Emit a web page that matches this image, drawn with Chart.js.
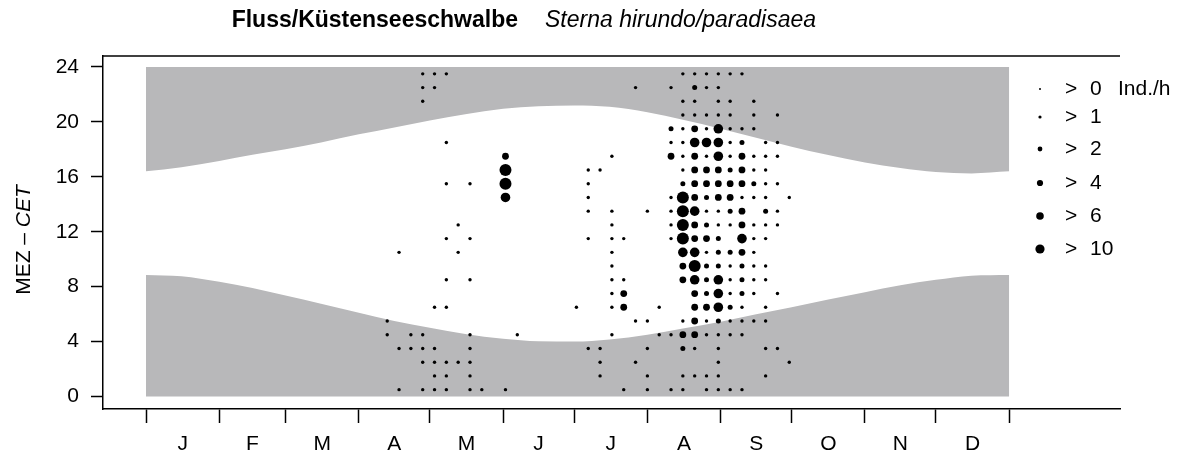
<!DOCTYPE html>
<html>
<head>
<meta charset="utf-8">
<script src="https://cdn.jsdelivr.net/npm/chart.js"></script>
<style>
  html, body { margin: 0; padding: 0; background: #fff; }
</style>
</head>
<body>
<canvas id="grafik" width="1194" height="461"></canvas>
<script>
// Monate und Achsen
var monate = ['J', 'F', 'M', 'A', 'M', 'J', 'J', 'A', 'S', 'O', 'N', 'D'];
var monatsAnfang = [0, 31, 59, 90, 120, 151, 181, 212, 243, 273, 304, 334, 365];
var stundenTicks = [0, 4, 8, 12, 16, 20, 24];

// Sonnenauf- und -untergang (MEZ, Stunden)
var sonneTage = [0, 15, 31, 45, 59, 74, 90, 105, 120, 135, 151, 166, 181, 196, 212, 227, 243, 258, 273, 288, 304, 319, 334, 349, 365];
var untergang = [16.4, 16.7, 17.15, 17.6, 18.0, 18.5, 19.1, 19.6, 20.1, 20.55, 20.95, 21.15, 21.2, 21.1, 20.7, 20.15, 19.5, 18.85, 18.2, 17.6, 17.05, 16.65, 16.35, 16.25, 16.4];
var aufgang = [8.85, 8.75, 8.35, 7.9, 7.35, 6.75, 6.1, 5.5, 5.0, 4.55, 4.2, 4.02, 4.0, 4.15, 4.5, 4.95, 5.45, 6.0, 6.5, 7.05, 7.6, 8.1, 8.5, 8.8, 8.85];

// Legendenklassen (Ind./h)
var klassen = ['> 0', '> 1', '> 2', '> 4', '> 6', '> 10'];

// Beobachtungen je Klasse: [Pentade (0-72), Stunde]
var ind1 = [
  [23,23],[24,23],[25,23],[45,23],[46,23],[47,23],[48,23],[49,23],[50,23],
  [23,22],[24,22],[41,22],[44,22],[47,22],[48,22],
  [23,21],[45,21],[46,21],[48,21],[49,21],[51,21],
  [45,20],[46,20],[47,20],[48,20],[49,20],[51,20],[53,20],
  [45,19],[47,19],[49,19],[50,19],[51,19],
  [25,18],[44,18],[45,18],[49,18],[52,18],[53,18],
  [39,17],[45,17],[47,17],[49,17],[51,17],[52,17],[53,17],
  [37,16],[38,16],[45,16],[51,16],[52,16],
  [25,15],[27,15],[37,15],[52,15],[53,15],
  [37,14],[44,14],[50,14],[51,14],[52,14],[54,14],
  [37,13],[39,13],[42,13],[44,13],[47,13],[48,13],[53,13],
  [26,12],[39,12],[44,12],[48,12],[49,12],[51,12],[52,12],[53,12],
  [25,11],[27,11],[37,11],[39,11],[40,11],[44,11],[51,11],[52,11],
  [21,10],[26,10],[39,10],[47,10],[51,10],
  [39,9],[49,9],[51,9],[52,9],
  [25,8],[27,8],[39,8],[40,8],[49,8],[51,8],[52,8],
  [39,7],[49,7],[51,7],[53,7],
  [24,6],[25,6],[36,6],[39,6],[43,6],[50,6],[52,6],
  [20,5],[41,5],[42,5],[45,5],[47,5],[49,5],[50,5],[51,5],[52,5],
  [20,4],[22,4],[23,4],[27,4],[31,4],[39,4],[43,4],[44,4],[47,4],[48,4],[49,4],[50,4],
  [21,3],[22,3],[23,3],[24,3],[27,3],[37,3],[38,3],[42,3],[46,3],[48,3],[52,3],[53,3],
  [23,2],[24,2],[25,2],[26,2],[27,2],[38,2],[41,2],[48,2],[54,2],
  [24,1],[25,1],[27,1],[38,1],[42,1],[45,1],[46,1],[47,1],[48,1],[52,1],
  [21,0],[23,0],[24,0],[25,0],[27,0],[28,0],[30,0],[40,0],[42,0],[44,0],[45,0],[47,0],[48,0],[49,0],[50,0]
];
var ind2 = [
  [46,22],[44,19],[50,18],[49,16],[45,15],[51,15],[47,14],[49,13],[52,13],[47,12],
  [48,11],[48,10],[49,10],[47,9],[48,9],[50,9],[47,8],[50,8],[47,7],[50,7],[49,6],[48,5],[45,3]
];
var ind4 = [
  [46,19],[30,17],[44,17],[46,17],[50,17],[46,16],[47,16],[48,16],[50,16],
  [46,15],[47,15],[48,15],[49,15],[50,15],[46,14],[48,14],[49,14],[50,13],[46,12],[50,12],
  [46,11],[47,11],[50,10],[45,9],[45,8],[40,7],[46,7],[40,6],[46,6],[47,6],[46,5],[45,4],[46,4]
];
var ind6 = [
  [48,19],[46,18],[47,18],[48,18],[48,17],[30,14],[46,13],[50,11],[45,10],[46,10],[46,8],[48,8],[48,7],[48,6]
];
var ind10 = [
  [30,16],[30,15],[45,14],[45,13],[45,12],[45,11],[46,9]
];

var GRAU = '#b8b8ba';
var SCHRIFT = '"Liberation Sans", Arial, sans-serif';

function punkte(liste) {
  return liste.map(function(p) { return { x: p[0] * 5 + 2, y: p[1] + 0.5 }; });
}
function kurve(werte) {
  return sonneTage.map(function(t, i) { return { x: t, y: werte[i] }; });
}
function punktDatensatz(liste, radius) {
  return {
    type: 'scatter', data: punkte(liste), order: 1,
    pointRadius: radius, pointHoverRadius: radius,
    backgroundColor: '#000', borderWidth: 0
  };
}

var monatsMitte = monate.map(function(m, i) { return (monatsAnfang[i] + monatsAnfang[i + 1]) / 2; });

// Pixel: Tag 0 bei x=146, 2.365 px je Tag; Zeichenfläche 103..1120
var LINKS = 103, RECHTS = 1120, OBEN = 56, UNTEN = 409;
var PX_TAG = 2.365;
var xMin = -(146 - LINKS) / PX_TAG;
var xMax = xMin + (RECHTS - LINKS) / PX_TAG;
var PX_STD = 13.73;
var yMin = -(UNTEN - 396.5) / PX_STD;
var yMax = 24 + (67 - OBEN) / PX_STD;

var beschriftung = {
  id: 'beschriftung',
  afterDraw: function(chart) {
    var c = chart.ctx;
    var a = chart.chartArea;
    c.save();
    // Rahmen oben
    c.strokeStyle = '#000';
    c.lineWidth = 1.5;
    c.beginPath();
    c.moveTo(a.left, a.top);
    c.lineTo(a.right, a.top);
    c.stroke();

    // Titel
    c.fillStyle = '#000';
    c.textBaseline = 'middle';
    c.font = 'bold 23px ' + SCHRIFT;
    c.textAlign = 'right';
    c.fillText('Fluss/Küstenseeschwalbe', 518, 21);
    c.font = 'italic 23px ' + SCHRIFT;
    c.textAlign = 'left';
    c.fillText('Sterna hirundo/paradisaea', 545, 21);

    // y-Achsentitel
    c.save();
    c.translate(24, 240);
    c.rotate(-Math.PI / 2);
    c.font = '21px ' + SCHRIFT;
    var t1 = 'MEZ – ';
    var w1 = c.measureText(t1).width;
    c.font = 'italic 21px ' + SCHRIFT;
    var w2 = c.measureText('CET').width;
    var start = -(w1 + w2) / 2;
    c.textAlign = 'left';
    c.font = '21px ' + SCHRIFT;
    c.fillText(t1, start, 0);
    c.font = 'italic 21px ' + SCHRIFT;
    c.fillText('CET', start + w1, 0);
    c.restore();

    // Legende
    var zeilen = [89, 117, 149, 183, 216, 249];
    var radien = [1.0, 1.6, 2.4, 3.1, 3.8, 4.6];
    c.font = '21px ' + SCHRIFT;
    c.textAlign = 'left';
    klassen.forEach(function(k, i) {
      var y = zeilen[i];
      c.beginPath();
      c.arc(1040, y, radien[i], 0, Math.PI * 2);
      c.fill();
      var teile = k.split(' ');
      c.fillText(teile[0], 1065, y);
      c.fillText(teile[1], 1090, y);
    });
    c.fillText('Ind./h', 1118, zeilen[0]);
    c.restore();
  }
};

new Chart(document.getElementById('grafik'), {
  type: 'scatter',
  data: {
    datasets: [
      punktDatensatz(ind10, 6.0),
      punktDatensatz(ind6, 4.8),
      punktDatensatz(ind4, 3.4),
      punktDatensatz(ind2, 2.5),
      punktDatensatz(ind1, 1.7),
      {
        type: 'line', data: kurve(untergang), order: 5,
        fill: { value: 24 }, backgroundColor: GRAU,
        borderWidth: 0, borderColor: GRAU, pointRadius: 0,
        cubicInterpolationMode: 'monotone'
      },
      {
        type: 'line', data: kurve(aufgang), order: 5,
        fill: { value: 0 }, backgroundColor: GRAU,
        borderWidth: 0, borderColor: GRAU, pointRadius: 0,
        cubicInterpolationMode: 'monotone'
      }
    ]
  },
  options: {
    responsive: false,
    animation: false,
    events: [],
    layout: { padding: { left: 0, top: OBEN, right: 1194 - RECHTS, bottom: 0 } },
    plugins: { legend: { display: false }, tooltip: { enabled: false }, title: { display: false } },
    scales: {
      x: {
        type: 'linear', min: xMin, max: xMax,
        afterFit: function(s) { s.height = 461 - UNTEN; },
        afterBuildTicks: function(s) {
          s.ticks = monatsAnfang.concat(monatsMitte).map(function(v) { return { value: v }; });
        },
        ticks: {
          autoSkip: false, maxRotation: 0, padding: 9,
          color: '#000', font: { family: SCHRIFT, size: 21 },
          callback: function(v) {
            var i = monatsMitte.indexOf(v);
            return i >= 0 ? monate[i] : '';
          }
        },
        grid: {
          drawOnChartArea: false, drawTicks: true, tickLength: 14, tickWidth: 1.5,
          tickColor: function(ctx) {
            return ctx.tick && monatsAnfang.indexOf(ctx.tick.value) >= 0 ? '#000' : 'rgba(0,0,0,0)';
          }
        },
        border: { display: true, color: '#000', width: 1.5 }
      },
      y: {
        type: 'linear', min: yMin, max: yMax,
        afterFit: function(s) { s.width = LINKS; },
        afterBuildTicks: function(s) {
          s.ticks = stundenTicks.map(function(v) { return { value: v }; });
        },
        ticks: {
          padding: 12, color: '#000', font: { family: SCHRIFT, size: 21 }
        },
        grid: { drawOnChartArea: false, drawTicks: true, tickLength: 12, tickWidth: 1.5, tickColor: '#000' },
        border: { display: true, color: '#000', width: 1.5 }
      }
    }
  },
  plugins: [beschriftung]
});
</script>
</body>
</html>
